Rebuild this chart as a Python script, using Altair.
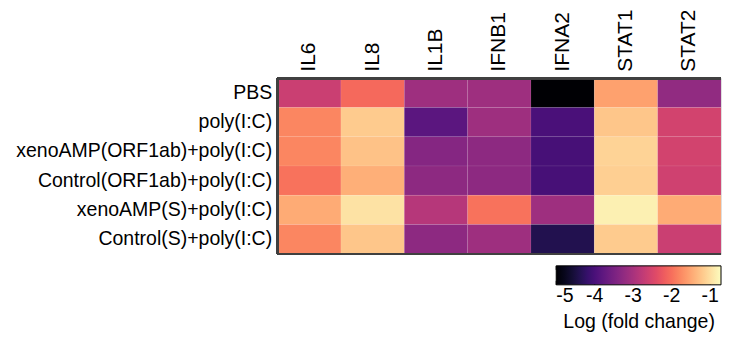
import altair as alt
import pandas as pd

treatments = [
    "PBS",
    "poly(I:C)",
    "xenoAMP(ORF1ab)+poly(I:C)",
    "Control(ORF1ab)+poly(I:C)",
    "xenoAMP(S)+poly(I:C)",
    "Control(S)+poly(I:C)",
]
genes = ["IL6", "IL8", "IL1B", "IFNB1", "IFNA2", "STAT1", "STAT2"]

pbs = [-2.65, -2.06, -3.10, -3.10, -5.00, -1.56, -3.24]
polyic = [-1.80, -1.18, -3.82, -3.10, -4.00, -1.22, -2.56]
xeno_orf = [-1.80, -1.26, -3.36, -3.28, -4.03, -1.10, -2.56]
ctrl_orf = [-1.98, -1.43, -3.28, -3.28, -4.03, -1.14, -2.60]
xeno_s = [-1.47, -0.97, -2.86, -1.98, -3.10, -0.84, -1.47]
ctrl_s = [-1.80, -1.22, -3.28, -3.10, -4.40, -1.18, -2.65]

rows_vals = [pbs, polyic, xeno_orf, ctrl_orf, xeno_s, ctrl_s]
records = []
for t, vals in zip(treatments, rows_vals):
    for g, v in zip(genes, vals):
        records.append({"treatment": t, "gene": g, "value": v})
df = pd.DataFrame(records)

legend_ticks = [-5, -4, -3, -2, -1]
ticks_df = pd.DataFrame({"t": legend_ticks})

FONT = "Liberation Sans"
W, H = 444, 176
DOMAIN = [-5, -0.72]
LEG_X, LEG_Y, LEG_LEN, LEG_TH = 279, 188, 165, 19
label_expr = "datum.value < 0 ? '-' + abs(datum.value) : '' + datum.value"

heat = alt.Chart(df).mark_rect(stroke="white", strokeWidth=0.5, strokeOpacity=0.15).encode(
    x=alt.X("gene:N", sort=genes, title=None,
            axis=alt.Axis(orient="top", labelAngle=-90, ticks=False, domain=False,
                          labelFontSize=21, labelFont=FONT, labelColor="black",
                          labelPadding=7, labelLimit=0)),
    y=alt.Y("treatment:N", sort=treatments, title=None,
            axis=alt.Axis(ticks=False, domain=False, labelFontSize=19.5, labelFont=FONT,
                          labelColor="black", labelPadding=6, labelLimit=0)),
    color=alt.Color("value:Q",
                    scale=alt.Scale(scheme="magma", domain=DOMAIN),
                    legend=alt.Legend(title="Log (fold change)", orient="none",
                                      direction="horizontal", legendX=LEG_X, legendY=LEG_Y,
                                      gradientLength=LEG_LEN, gradientThickness=LEG_TH,
                                      gradientStrokeColor="black", gradientStrokeWidth=1,
                                      values=legend_ticks, labelFontSize=19.5, labelFont=FONT,
                                      labelColor="black", labelAlign="center",
                                      labelExpr=label_expr, labelOffset=2,
                                      titleOrient="bottom", titleAnchor="middle",
                                      titleFontSize=19.5, titleFont=FONT, titleColor="black",
                                      titleFontWeight="normal", titlePadding=7, padding=0)),
)

tick_scale = alt.Scale(domain=DOMAIN, range=[LEG_X, LEG_X + LEG_LEN])
ticks_top = alt.Chart(ticks_df).mark_rule(color="black", strokeWidth=1).encode(
    x=alt.X("t:Q", scale=tick_scale, axis=None),
    y=alt.value(LEG_Y), y2=alt.value(LEG_Y + 4))
ticks_bot = alt.Chart(ticks_df).mark_rule(color="black", strokeWidth=1).encode(
    x=alt.X("t:Q", scale=tick_scale, axis=None),
    y=alt.value(LEG_Y + LEG_TH - 4), y2=alt.value(LEG_Y + LEG_TH))

border_color = "#404040"
top = alt.Chart(df).mark_rule(color=border_color, strokeWidth=2).encode(
    x=alt.value(0), x2=alt.value(W), y=alt.value(0))
bottom = alt.Chart(df).mark_rule(color=border_color, strokeWidth=2).encode(
    x=alt.value(0), x2=alt.value(W), y=alt.value(H))
left = alt.Chart(df).mark_rule(color=border_color, strokeWidth=2).encode(
    x=alt.value(0), y=alt.value(0), y2=alt.value(H))

chart = alt.layer(heat, top, bottom, left, ticks_top, ticks_bot).resolve_scale(
    x="independent"
).properties(
    width=W, height=H, padding={"left": 7, "top": 0, "right": 0, "bottom": 0}
).configure_view(stroke=None).configure(background="white")

chart.save("out.html", embed_options={"renderer": "svg", "actions": False})
